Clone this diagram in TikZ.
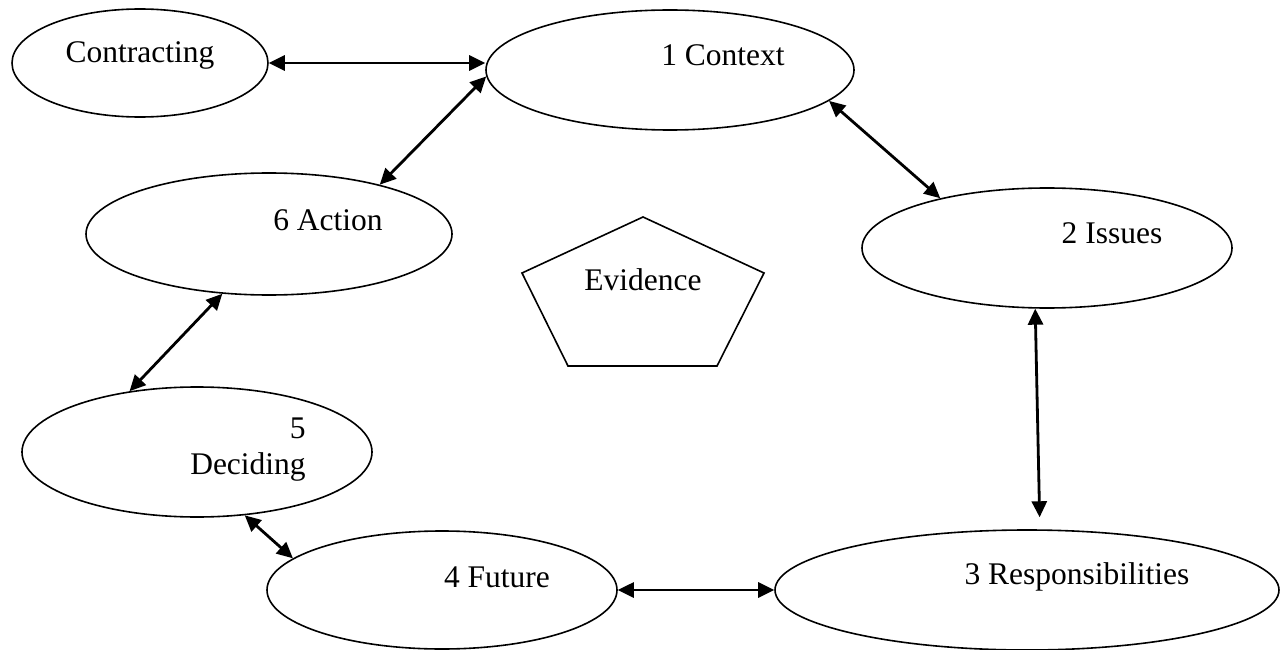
\documentclass[tikz,border=0pt]{standalone}
\usepackage{fontspec}
\setmainfont{Liberation Serif}
\usetikzlibrary{arrows.meta,shapes.geometric}
\begin{document}
\begin{tikzpicture}[x=1pt,y=-1pt,
  every node/.style={font=\fontsize{31.5}{36}\selectfont},
  oval/.style={ellipse, draw, line width=1.6pt, inner sep=0pt},
  link/.style={line width=2.8pt, {Triangle[length=16pt,width=15pt]}-{Triangle[length=16pt,width=15pt]}}]
\useasboundingbox (0,0) rectangle (1280,650);
\node[oval, minimum width=256pt, minimum height=108pt, label={[yshift=8pt]center:Contracting}] (con) at (140,63) {};
\node[oval, minimum width=368pt, minimum height=120pt, label={[xshift=53pt,yshift=15pt]center:1 Context}] (ctx) at (670,70) {};
\node[oval, minimum width=370pt, minimum height=120pt, label={[xshift=65pt,yshift=15pt]center:2 Issues}] (iss) at (1047,248) {};
\node[oval, minimum width=504pt, minimum height=120pt, label={[xshift=50pt,yshift=13pt]center:3 Responsibilities}] (res) at (1027,590) {};
\node[oval, minimum width=350pt, minimum height=118pt, label={[xshift=55pt,yshift=13pt]center:4 Future}] (fut) at (442,590) {};
\node[oval, minimum width=350pt, minimum height=130pt, label={[align=right,xshift=51pt,yshift=2pt]center:5\\Deciding}] (dec) at (197,452) {};
\node[oval, minimum width=366pt, minimum height=122pt, label={[xshift=59pt,yshift=14pt]center:6 Action}] (act) at (269,234) {};
\draw[line width=1.6pt] (643,217) -- (764,273) -- (717,366) -- (568,366) -- (522,273) -- cycle;
\node (ev) at (643,280) {Evidence};
\draw[link] (con.east) -- (con.east -| ctx.west);
\draw[link] (ctx.182) -- (act.24);
\draw[link] (ctx.-11) -- (iss.155);
\draw[link, shorten >=12pt] (iss.259) -- (res.78);
\draw[link] (act.232) -- (dec.138);
\draw[link] (dec.-53) -- (fut.168);
\draw[link] (fut.east) -- (res.west);
\end{tikzpicture}
\end{document}
